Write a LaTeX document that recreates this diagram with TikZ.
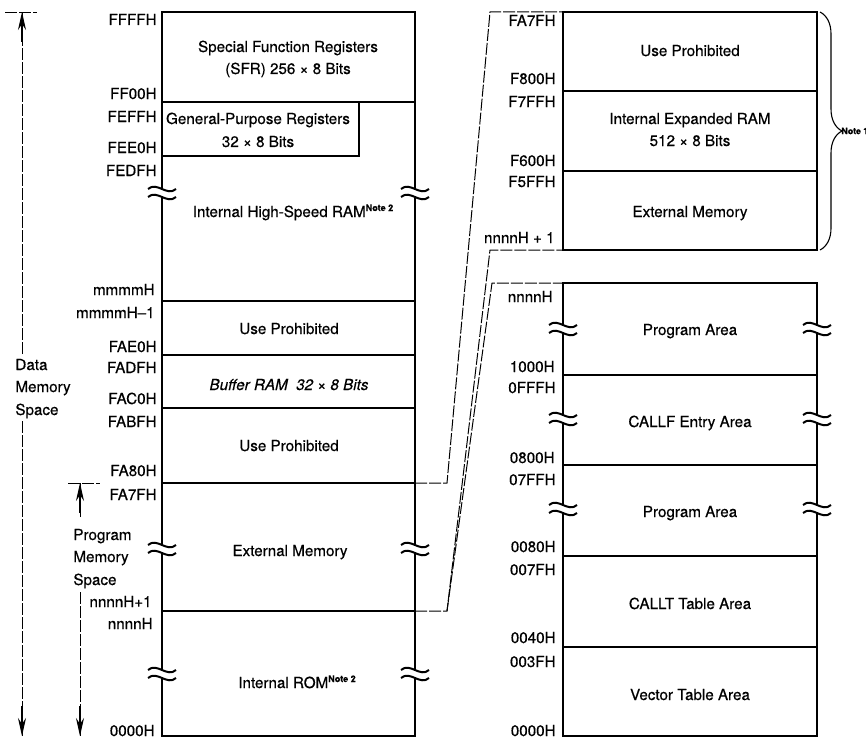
\documentclass[tikz,border=0pt]{standalone}
\usepackage{fontspec}
\setmainfont[FakeBold=0.5]{TeX Gyre Heros}
\usetikzlibrary{arrows.meta,decorations.pathreplacing}

\begin{document}
\begin{tikzpicture}[x=0.5pt,y=-0.5pt,>={Stealth[length=9pt,width=4pt]},
  font=\fontsize{7.6}{9}\selectfont,
  addr/.style={anchor=base east,inner sep=0pt},
  area/.style={anchor=base,inner sep=0pt},
  side/.style={anchor=base west,inner sep=0pt},
  mapbox/.style={line width=1.4pt},
  divline/.style={line width=0.75pt},
  zoomline/.style={line width=0.5pt,dash pattern=on 6pt off 1pt},
  axisline/.style={line width=0.45pt,dash pattern=on 6pt off 1pt},
  tipline/.style={line width=0.6pt,->},
  gapmark/.pic={\fill[white] (-3,-2) rectangle (3,4);
    \draw[line width=1pt] (-14,-3) .. controls (-5,-11) and (5,5) .. (14,-3);
    \draw[line width=1pt] (-14,5) .. controls (-5,-3) and (5,13) .. (14,5);}]
\useasboundingbox (0,0) rectangle (866,738);
\newcommand{\notemark}[1]{\raisebox{3pt}{\fontsize{4.5}{5}\selectfont\bfseries Note #1}}
% left map
\draw[mapbox] (162,12) rectangle (415,736);
\foreach \y in {102,301,355,408,483,611} \draw[divline] (162,\y) -- (415,\y);
\draw[divline] (162,156) -| (359,102);
\node[area] (sfr1) at (288,52) {Special Function Registers};
\node[area] (sfr2) at (288,74) {(SFR) 256 × 8 Bits};
\node[area] (gpr1) at (258,124) {General-Purpose Registers};
\node[area] (gpr2) at (258,147) {32 × 8 Bits};
\node[area] (hsram) at (293,217) {Internal High-Speed RAM\notemark{2}};
\node[area] (up1) at (289,334) {Use Prohibited};
\node[area,font=\fontsize{7.6}{9}\selectfont\itshape] (buf) at (289,390) {Buffer RAM\ \ 32 × 8 Bits};
\node[area] (up2) at (289,451) {Use Prohibited};
\node[area] (ext) at (290,556) {External Memory};
\node[area] (rom) at (297,688) {Internal ROM\notemark{2}};
\foreach \t/\x/\y [count=\i] in {FFFFH/157/25,FF00H/157/99,FEFFH/157/122,FEE0H/157/153,FEDFH/157/176,
  mmmmH/155/295,mmmmH–1/155/318,FAE0H/157/352,FADFH/157/373,FAC0H/157/404,FABFH/157/427,
  FA80H/157/476,FA7FH/157/500,nnnnH+1/152/607,nnnnH/153/629,0000H/155/736}
  \node[addr] (la\i) at (\x,\y) {\t};
% right maps
\draw[mapbox] (563,12) rectangle (817,250);
\foreach \y in {91,171} \draw[divline] (563,\y) -- (817,\y);
\draw[mapbox] (563,283) rectangle (817,736);
\foreach \y in {375,465,556,647} \draw[divline] (563,\y) -- (817,\y);
\node[area] (rup) at (690,56) {Use Prohibited};
\node[area] (xram1) at (690,124) {Internal Expanded RAM};
\node[area] (xram2) at (690,146) {512 × 8 Bits};
\node[area] (rext) at (690,217) {External Memory};
\node[area] (prog1) at (690,335) {Program Area};
\node[area] (callf) at (690,427) {CALLF Entry Area};
\node[area] (prog2) at (690,517) {Program Area};
\node[area] (callt) at (690,609) {CALLT Table Area};
\node[area] (vect) at (690,700) {Vector Table Area};
\foreach \t/\x/\y [count=\i] in {FA7FH/556/26,F800H/556/84,F7FFH/556/107,F600H/556/166,F5FFH/556/187,
  nnnnH + 1/555/243,nnnnH/553/302,1000H/555/372,0FFFH/556/393,0800H/555/463,07FFH/556/485,
  0080H/556/552,007FH/556/575,0040H/556/643,003FH/556/667,0000H/556/736}
  \node[addr] (ra\i) at (\x,\y) {\t};
\foreach \x/\y in {162/192,415/192,162/548,415/548,162/673,415/673,
  563/328,817/328,563/418,817/418,563/508,817/508}
  \pic at (\x,\y) {gapmark};
% expansion lines
\coordinate (a1) at (415,483); \coordinate (a2) at (447,483);
\coordinate (a3) at (490,12); \coordinate (a4) at (563,12);
\coordinate (b1) at (415,611); \coordinate (b2) at (447,611);
\coordinate (b3) at (490,250); \coordinate (b4) at (563,250);
\coordinate (c3) at (492,283); \coordinate (c4) at (563,283);
\draw[zoomline] (a1) -- (a2) -- (a3) -- (a4);
\draw[zoomline] (b1) -- (b2) -- (b3) -- (b4);
\draw[zoomline] (b2) -- (c3) -- (c4);
\coordinate (nbt) at (820,12); \coordinate (nbb) at (820,250);
\draw[line width=0.55pt,decorate,decoration={brace,amplitude=11pt}] (nbt) -- (nbb);
\node[anchor=west,inner sep=0pt,font=\fontsize{4.4}{5}\selectfont\bfseries] (note1) at (841,131) {Note 1};
% space arrows
\node[side] (dms1) at (15,370) {Data};
\node[side] (dms2) at (15,392) {Memory};
\node[side] (dms3) at (15,415) {Space};
\coordinate (dtk1) at (5,12); \coordinate (dtk2) at (37,12);
\coordinate (dtop) at (22,12); \coordinate (dup) at (22,354);
\coordinate (ddn) at (22,421); \coordinate (dbot) at (22,736);
\draw[axisline] (dtk1) -- (dtk2);
\draw[axisline] (dup) -- (dtop);
\draw[axisline] (ddn) -- (dbot);
\draw[tipline] (dtop) ++(0,30) -- (dtop);
\draw[tipline] (dbot) ++(0,-30) -- (dbot);
\node[side] (pms1) at (73,540) {Program};
\node[side] (pms2) at (73,562) {Memory};
\node[side] (pms3) at (73,585) {Space};
\coordinate (ptk1) at (68,483); \coordinate (ptk2) at (100,483);
\coordinate (ptop) at (80,483); \coordinate (pup) at (80,517);
\coordinate (pdn) at (80,592); \coordinate (pbot) at (80,736);
\draw[axisline] (ptk1) -- (ptk2);
\draw[axisline] (pup) -- (ptop);
\draw[axisline] (pdn) -- (pbot);
\draw[tipline] (ptop) ++(0,30) -- (ptop);
\draw[tipline] (pbot) ++(0,-30) -- (pbot);
\end{tikzpicture}
\end{document}
